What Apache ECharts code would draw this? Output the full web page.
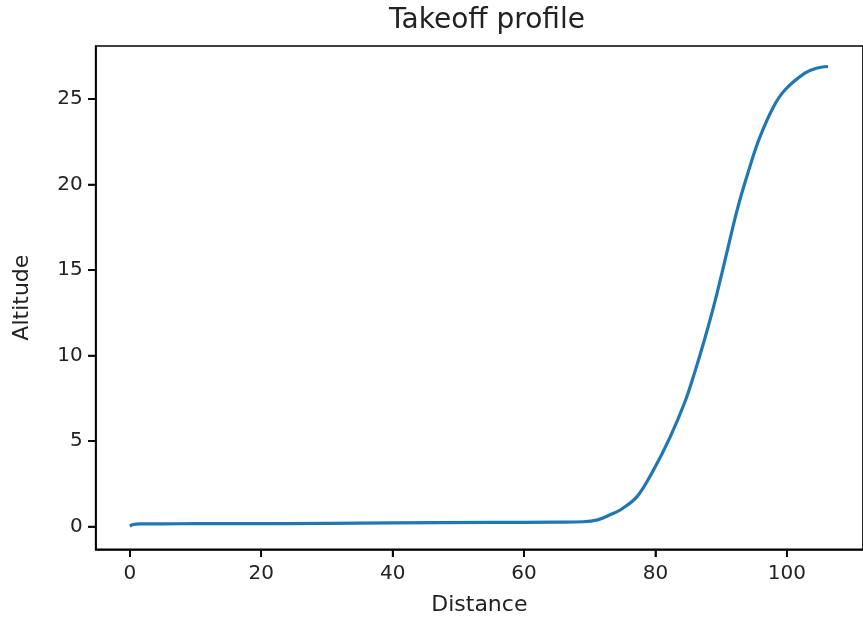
<!DOCTYPE html>
<html>
<head>
<meta charset="utf-8">
<script src="https://cdn.jsdelivr.net/npm/echarts@6/dist/echarts.min.js"></script>
<style>html,body{margin:0;padding:0;background:#fff;}#c{width:863px;height:622px;}</style>
</head>
<body>
<div id="c"></div>
<script>
const titleText = "Takeoff profile";
const xLabel = "Distance";
const yLabel = "Altitude";
const xTicks = [0, 20, 40, 60, 80, 100];
const yTicks = [0, 5, 10, 15, 20, 25];
const distance = [0, 0.5, 1.5, 5, 10, 17, 17.2, 30, 40, 55, 65, 69, 71.2, 73.2, 74.7, 77.2, 79.7, 82.2, 84.5, 85.97, 87.47, 88.87, 90.13, 91.33, 92.58, 94.08, 95.74, 98.0, 99.75, 102.75, 104.5, 106.27];
const altitude = [0.03, 0.12, 0.16, 0.16, 0.17, 0.17, 0.17, 0.19, 0.21, 0.24, 0.26, 0.28, 0.39, 0.7, 0.98, 1.75, 3.3, 5.2, 7.3, 9.0, 10.92, 12.87, 14.82, 16.77, 18.71, 20.67, 22.61, 24.56, 25.54, 26.51, 26.8, 26.9];

const pts = distance.map((d, i) => [d, altitude[i]]);
const font = 'DejaVu Sans';
const txt = '#222';
const xMin = -5.2, xMax = 111.6, yMin = -1.33, yMax = 28.1;
const tickLen = 7.7, tickW = 1.7;
const chart = echarts.init(document.getElementById('c'), null, {renderer: 'canvas'});
chart.setOption({
  animation: false,
  backgroundColor: '#fff',
  title: {
    text: titleText, left: 482, top: 2, textAlign: 'center',
    textStyle: {fontFamily: font, fontSize: 28, fontWeight: 'normal', color: txt}
  },
  grid: {
    left: 95.7, top: 46, right: -9.1, bottom: 72.7,
    show: true, borderColor: '#000', borderWidth: 1.7, backgroundColor: 'transparent'
  },
  xAxis: {
    type: 'value', min: xMin, max: xMax,
    name: xLabel, nameLocation: 'middle', nameGap: 45,
    nameTextStyle: {fontFamily: font, fontSize: 22, color: txt},
    axisLine: {show: true, onZero: false, lineStyle: {color: '#000', width: 1.7}},
    axisTick: {show: true, length: tickLen, customValues: xTicks, lineStyle: {color: '#000', width: tickW}},
    axisLabel: {customValues: xTicks, margin: 14, fontFamily: font, fontSize: 20, color: txt},
    splitLine: {show: false}
  },
  yAxis: {
    type: 'value', min: yMin, max: yMax,
    name: yLabel, nameLocation: 'middle', nameGap: 62, nameRotate: 90,
    nameTextStyle: {fontFamily: font, fontSize: 22, color: txt},
    axisLine: {show: true, onZero: false, lineStyle: {color: '#000', width: 1.7}},
    axisTick: {show: true, length: tickLen, customValues: yTicks, lineStyle: {color: '#000', width: tickW}},
    axisLabel: {customValues: yTicks, margin: 13, fontFamily: font, fontSize: 20, color: txt},
    splitLine: {show: false}
  },
  series: [{
    type: 'line', data: pts, showSymbol: false, smooth: 0.35,
    lineStyle: {color: '#1f77b4', width: 3.2}, itemStyle: {color: '#1f77b4'}, clip: true, z: 3
  }, {
    type: 'scatter', data: xTicks.map(v => [v, yMin]), symbol: 'rect',
    symbolSize: [tickW, tickLen], symbolOffset: [0, tickLen / 2],
    itemStyle: {color: '#000'}, clip: false, silent: true, z: 4
  }, {
    type: 'scatter', data: yTicks.map(v => [xMin, v]), symbol: 'rect',
    symbolSize: [tickLen, tickW], symbolOffset: [-tickLen / 2, 0],
    itemStyle: {color: '#000'}, clip: false, silent: true, z: 4
  }]
});
</script>
</body>
</html>
